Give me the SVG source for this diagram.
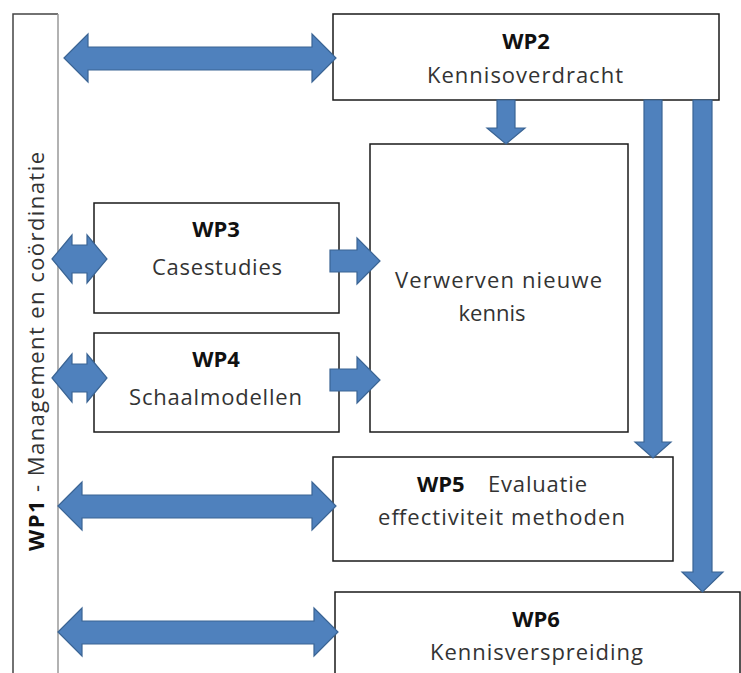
<svg xmlns="http://www.w3.org/2000/svg" width="741" height="673" viewBox="0 0 741 673">
<style>
.box{fill:#fff;stroke:#1a1a1a;stroke-width:1.5}
.t{font-family:"Open Sans","Liberation Sans",sans-serif;font-size:22px;fill:#333}
.b{font-family:"Open Sans","Liberation Sans",sans-serif;font-size:22px;font-weight:bold;fill:#111}
.arr{fill:#4F81BD;stroke:#3A6494;stroke-width:1.2;stroke-linejoin:miter}
</style>
<rect width="741" height="673" fill="#fff"/>
<g id="wp1">
<rect x="13" y="14" width="45" height="680" fill="#fff"/>
<path d="M13,680 L13,14 L58,14" fill="none" stroke="#444" stroke-width="1.5"/>
<line x1="58" y1="14" x2="58" y2="680" stroke="#999" stroke-width="1.5"/>
<text transform="translate(44,551) rotate(-90)" class="t" textLength="399" lengthAdjust="spacing"><tspan class="b">WP1</tspan> - Management en coördinatie</text>
</g>
<g id="wp2">
<rect class="box" x="333" y="14" width="386" height="86"/>
<text class="b" x="526" y="49" text-anchor="middle">WP2</text>
<text class="t" x="427" y="83" textLength="196" lengthAdjust="spacing">Kennisoverdracht</text>
</g>
<g id="verwerven">
<rect class="box" x="370" y="144" width="258" height="288"/>
<text class="t" x="395" y="288" textLength="207" lengthAdjust="spacing">Verwerven nieuwe</text>
<text class="t" x="492" y="321" text-anchor="middle">kennis</text>
</g>
<g id="wp3">
<rect class="box" x="94" y="203" width="245" height="110"/>
<text class="b" x="216" y="237" text-anchor="middle">WP3</text>
<text class="t" x="152" y="275" textLength="130" lengthAdjust="spacing">Casestudies</text>
</g>
<g id="wp4">
<rect class="box" x="94" y="333" width="245" height="99"/>
<text class="b" x="216" y="367" text-anchor="middle">WP4</text>
<text class="t" x="129" y="405" textLength="173" lengthAdjust="spacing">Schaalmodellen</text>
</g>
<g id="wp5">
<rect class="box" x="333" y="457" width="340" height="104"/>
<text class="b" x="417" y="492">WP5</text>
<text class="t" x="488" y="492" textLength="99" lengthAdjust="spacing">Evaluatie</text>
<text class="t" x="378" y="525" textLength="247" lengthAdjust="spacing">effectiviteit methoden</text>
</g>
<g id="wp6">
<rect class="box" x="335" y="592" width="405" height="100"/>
<text class="b" x="536" y="627" text-anchor="middle">WP6</text>
<text class="t" x="430" y="660" textLength="213" lengthAdjust="spacing">Kennisverspreiding</text>
</g>
<g id="connectors">
<path class="arr" d="M64,58 L88,34 L88,47 L312,47 L312,34 L336,58 L312,82 L312,70 L88,70 L88,82 Z"/>
<path class="arr" d="M58,506 L82,482 L82,495 L312,495 L312,482 L336,506 L312,530 L312,518 L82,518 L82,530 Z"/>
<path class="arr" d="M58,632 L82,608 L82,621 L314,621 L314,608 L338,632 L314,656 L314,644 L82,644 L82,656 Z"/>
<path class="arr" d="M52,259 L72,235 L72,245 L87,245 L87,235 L107,259 L87,283 L87,273 L72,273 L72,283 Z"/>
<path class="arr" d="M52,378 L72,354 L72,364 L87,364 L87,354 L107,378 L87,402 L87,392 L72,392 L72,402 Z"/>
<path class="arr" d="M330,250 L357,250 L357,238 L380,261 L357,284 L357,272 L330,272 Z"/>
<path class="arr" d="M330,369 L357,369 L357,357 L380,380 L357,403 L357,391 L330,391 Z"/>
<path class="arr" d="M497,100 L515,100 L515,128 L525,128 L506,144 L487,128 L497,128 Z"/>
<path class="arr" d="M644,100 L662,100 L662,442 L671,442 L653,458 L635,442 L644,442 Z"/>
<path class="arr" d="M693,100 L712,100 L712,572 L723,572 L702.5,592 L682,572 L693,572 Z"/>
</g>
</svg>
